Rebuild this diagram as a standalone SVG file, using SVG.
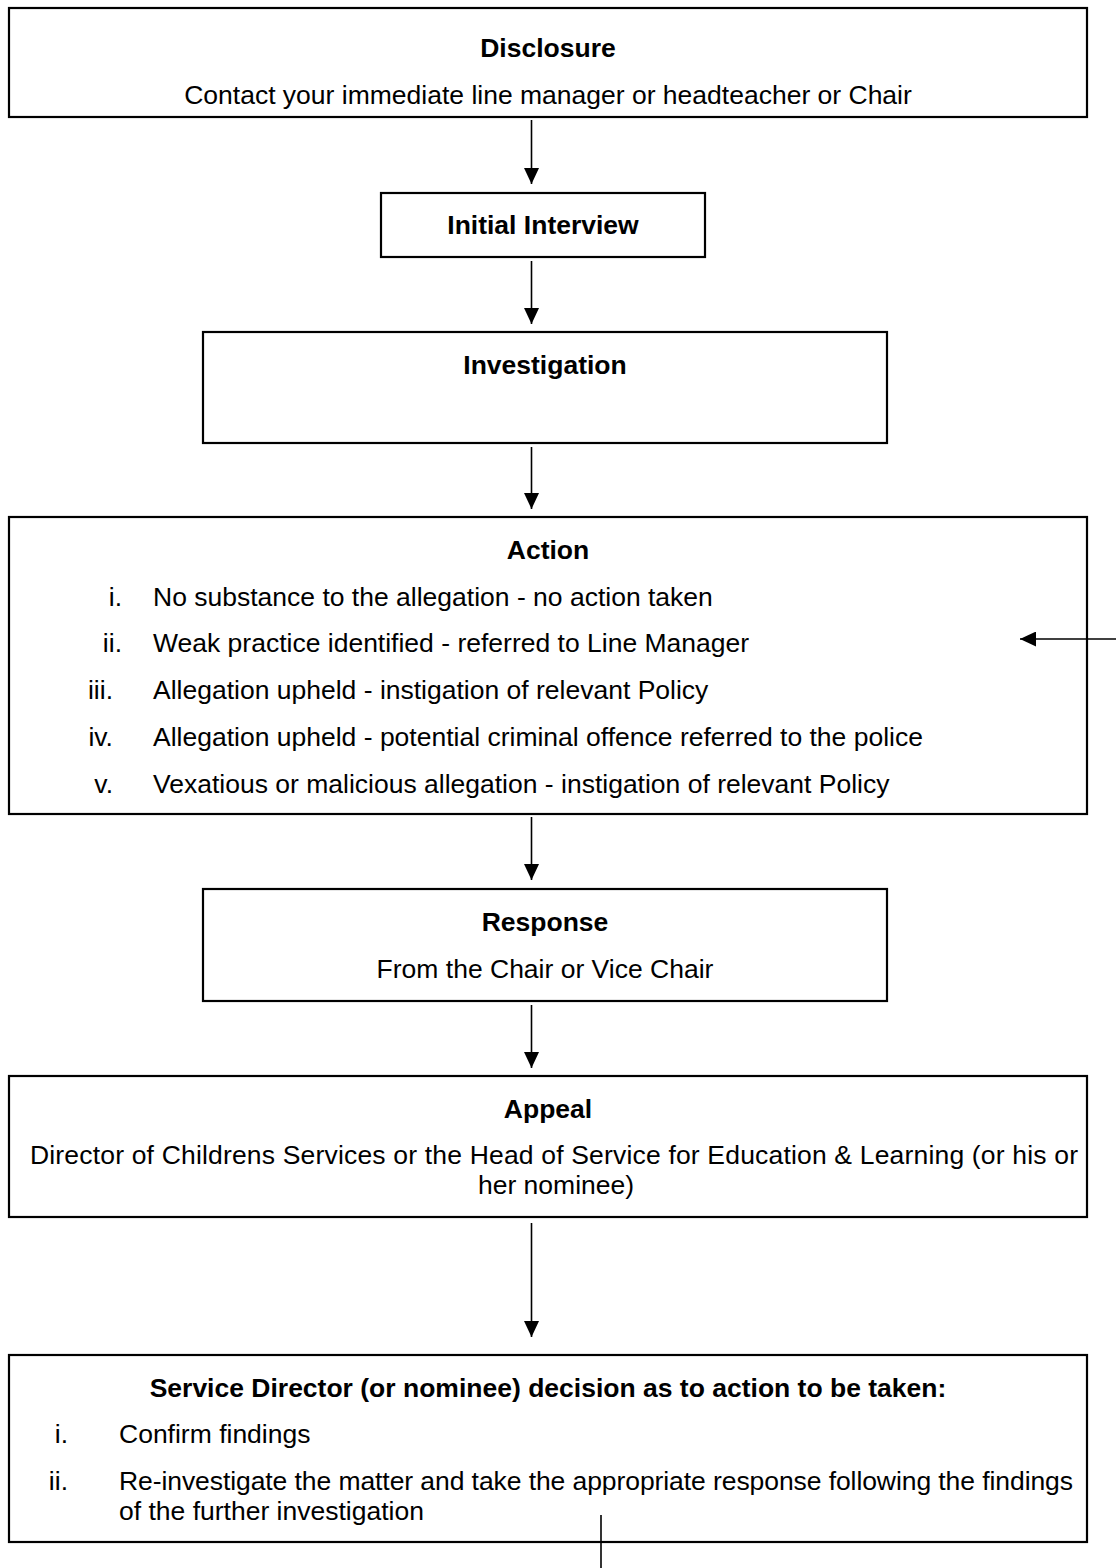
<svg xmlns="http://www.w3.org/2000/svg" width="1116" height="1568" viewBox="0 0 1116 1568">
<style>
.box{fill:#fff;stroke:#000;stroke-width:2.2}
text{font-family:"Liberation Sans",Arial,sans-serif;font-size:26.5px;fill:#000}
.b{font-weight:bold}
.c{text-anchor:middle}
.e{text-anchor:end}
.ln{stroke:#000;stroke-width:1.6;fill:none}
</style>
<defs>
<marker id="ah" viewBox="0 0 16 15" markerWidth="16" markerHeight="15" refX="16" refY="7.5" orient="auto" markerUnits="userSpaceOnUse">
<path d="M0,0 L16,7.5 L0,15 z" fill="#000"/>
</marker>
</defs>
<rect width="1116" height="1568" fill="#fff"/>
<g id="disclosure">
<rect class="box" x="9" y="8" width="1078" height="109"/>
<text class="b c" x="548" y="57">Disclosure</text>
<text class="c" x="548" y="104">Contact your immediate line manager or headteacher or Chair</text>
</g>
<g id="initial-interview">
<rect class="box" x="381" y="193" width="324" height="64"/>
<text class="b c" x="543" y="234">Initial Interview</text>
</g>
<g id="investigation">
<rect class="box" x="203" y="332" width="684" height="111"/>
<text class="b c" x="545" y="374">Investigation</text>
</g>
<g id="action">
<rect class="box" x="9" y="517" width="1078" height="297"/>
<text class="b c" x="548" y="559">Action</text>
<text class="e" x="122" y="606">i.</text>
<text x="153" y="606">No substance to the allegation - no action taken</text>
<text class="e" x="122" y="652">ii.</text>
<text x="153" y="652">Weak practice identified - referred to Line Manager</text>
<text class="e" x="113" y="699">iii.</text>
<text x="153" y="699">Allegation upheld - instigation of relevant Policy</text>
<text class="e" x="113" y="746">iv.</text>
<text x="153" y="746">Allegation upheld - potential criminal offence referred to the police</text>
<text class="e" x="113" y="793">v.</text>
<text x="153" y="793">Vexatious or malicious allegation - instigation of relevant Policy</text>
</g>
<g id="response">
<rect class="box" x="203" y="889" width="684" height="112"/>
<text class="b c" x="545" y="931">Response</text>
<text class="c" x="545" y="978">From the Chair or Vice Chair</text>
</g>
<g id="appeal">
<rect class="box" x="9" y="1076" width="1078" height="141"/>
<text class="b c" x="548" y="1118">Appeal</text>
<text x="30" y="1164" textLength="1048" lengthAdjust="spacing">Director of Childrens Services or the Head of Service for Education &amp; Learning (or his or</text>
<text class="c" x="556" y="1194">her nominee)</text>
</g>
<g id="decision">
<rect class="box" x="9" y="1355" width="1078" height="187"/>
<text class="b c" x="548" y="1397">Service Director (or nominee) decision as to action to be taken:</text>
<text class="e" x="68" y="1443">i.</text>
<text x="119" y="1443">Confirm findings</text>
<text class="e" x="68" y="1490">ii.</text>
<text x="119" y="1490" textLength="954" lengthAdjust="spacing">Re-investigate the matter and take the appropriate response following the findings</text>
<text x="119" y="1520">of the further investigation</text>
</g>
<g id="connectors">
<line class="ln" x1="531.5" y1="120" x2="531.5" y2="184" marker-end="url(#ah)"/>
<line class="ln" x1="531.5" y1="261" x2="531.5" y2="324" marker-end="url(#ah)"/>
<line class="ln" x1="531.5" y1="447" x2="531.5" y2="509" marker-end="url(#ah)"/>
<line class="ln" x1="531.5" y1="817" x2="531.5" y2="880" marker-end="url(#ah)"/>
<line class="ln" x1="531.5" y1="1005" x2="531.5" y2="1068" marker-end="url(#ah)"/>
<line class="ln" x1="531.5" y1="1223" x2="531.5" y2="1337" marker-end="url(#ah)"/>
<line class="ln" x1="1120" y1="639" x2="1020" y2="639" marker-end="url(#ah)"/>
<line class="ln" x1="601" y1="1515" x2="601" y2="1570"/>
</g>
</svg>
